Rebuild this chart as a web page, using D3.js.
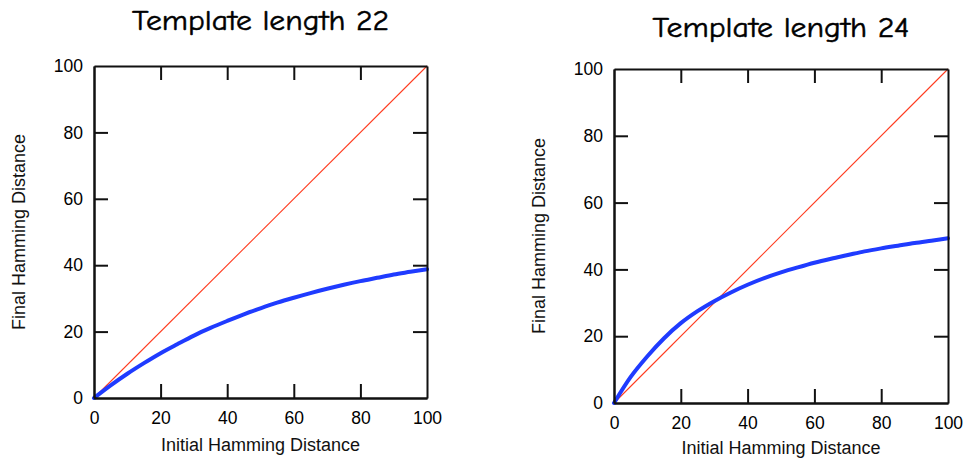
<!DOCTYPE html>
<html>
<head>
<meta charset="utf-8">
<script src="https://cdn.jsdelivr.net/npm/d3@7"></script>
<style>
  html, body { margin: 0; padding: 0; background: #fff; }
  svg { display: block; }
  .tick text { font-family: "Liberation Sans", Arial, Helvetica, sans-serif; font-size: 17.5px; fill: #000; }
  .axis-title { font-family: "Liberation Sans", Arial, Helvetica, sans-serif; font-size: 18px; fill: #111; }
  .title { font-family: "Comic Sans MS", "Comic Neue", "Noto Sans", sans-serif; font-size: 28px; fill: #000; stroke: #000; stroke-width: 0.5px; }
</style>
</head>
<body>
<svg id="chart" width="968" height="458"></svg>
<script>
// ---- data ----
const titles = ["Template length 22", "Template length 24"];
const xLabel = "Initial Hamming Distance";
const yLabel = "Final Hamming Distance";
const tickValues = [0, 20, 40, 60, 80, 100];
const initialDistance = [0, 5, 10, 15, 20, 25, 30, 35, 40, 45, 50, 55, 60, 65, 70, 75, 80, 85, 90, 95, 100];
const finalDistance22 = [0, 3.8, 7.3, 10.5, 13.5, 16.2, 18.8, 21.1, 23.2, 25.2, 27.0, 28.7, 30.2, 31.6, 32.9, 34.1, 35.2, 36.2, 37.2, 38.0, 38.8];
const finalDistance24 = [0, 7.8, 14.0, 19.4, 23.9, 27.5, 30.5, 33.1, 35.4, 37.4, 39.1, 40.6, 42.0, 43.2, 44.3, 45.4, 46.3, 47.1, 47.9, 48.6, 49.3];
const identityLine = [0, 100];

// ---- layout ----
const panels = [
  { left: 94, top: 66, width: 333, height: 332, titleY: 30, xTitleOffset: 53, series: finalDistance22, title: titles[0] },
  { left: 614, top: 69, width: 334, height: 334, titleY: 36.7, xTitleOffset: 51, series: finalDistance24, title: titles[1] }
];

const svg = d3.select("#chart");
const tickLen = 14;

panels.forEach(p => {
  const g = svg.append("g").attr("transform", `translate(${p.left},${p.top})`);
  const x = d3.scaleLinear().domain([0, 100]).range([0, p.width]);
  const y = d3.scaleLinear().domain([0, 100]).range([p.height, 0]);

  // identity (red) line
  g.append("path")
    .datum(identityLine)
    .attr("fill", "none")
    .attr("stroke", "#ff3b1f")
    .attr("stroke-width", 1.1)
    .attr("d", d3.line().x(d => x(d)).y(d => y(d)));

  // blue curve
  g.append("path")
    .datum(initialDistance.map((d, i) => [d, p.series[i]]))
    .attr("fill", "none")
    .attr("stroke", "#1f3bff")
    .attr("stroke-width", 4)
    .attr("stroke-linecap", "round")
    .attr("d", d3.line().curve(d3.curveMonotoneX).x(d => x(d[0])).y(d => y(d[1])));

  // axes
  const styleAxis = sel => {
    sel.select(".domain").attr("stroke", "#111").attr("stroke-width", 2);
    sel.selectAll(".tick line").attr("stroke", "#111").attr("stroke-width", 2);
  };
  const inner = tickValues.filter(v => v > 0 && v < 100);

  g.append("g").attr("transform", `translate(0,${p.height})`)
    .call(d3.axisBottom(x).tickValues(tickValues).tickSizeInner(0).tickSizeOuter(0).tickPadding(14))
    .call(styleAxis);
  g.append("g")
    .call(d3.axisLeft(y).tickValues(tickValues).tickSizeInner(0).tickSizeOuter(0).tickPadding(11))
    .call(styleAxis);

  // inward tick marks on all four sides
  g.append("g").attr("transform", `translate(0,${p.height})`)
    .call(d3.axisBottom(x).tickValues(inner).tickSizeInner(-tickLen).tickSizeOuter(0).tickFormat(""))
    .call(styleAxis);
  g.append("g")
    .call(d3.axisTop(x).tickValues(inner).tickSizeInner(-tickLen).tickSizeOuter(0).tickFormat(""))
    .call(styleAxis);
  g.append("g")
    .call(d3.axisLeft(y).tickValues(inner).tickSizeInner(-tickLen).tickSizeOuter(0).tickFormat(""))
    .call(styleAxis);
  g.append("g").attr("transform", `translate(${p.width},0)`)
    .call(d3.axisRight(y).tickValues(inner).tickSizeInner(-tickLen).tickSizeOuter(0).tickFormat(""))
    .call(styleAxis);

  // axis titles
  g.append("text").attr("class", "axis-title")
    .attr("x", p.width / 2).attr("y", p.height + p.xTitleOffset)
    .attr("text-anchor", "middle").text(xLabel);
  g.append("text").attr("class", "axis-title")
    .attr("transform", `translate(-69,${p.height / 2}) rotate(-90)`)
    .attr("text-anchor", "middle").text(yLabel);

  // panel title
  svg.append("text").attr("class", "title")
    .attr("x", p.left + p.width / 2).attr("y", p.titleY)
    .attr("text-anchor", "middle")
    .attr("textLength", 257).attr("lengthAdjust", "spacingAndGlyphs")
    .text(p.title);
});
</script>
</body>
</html>
